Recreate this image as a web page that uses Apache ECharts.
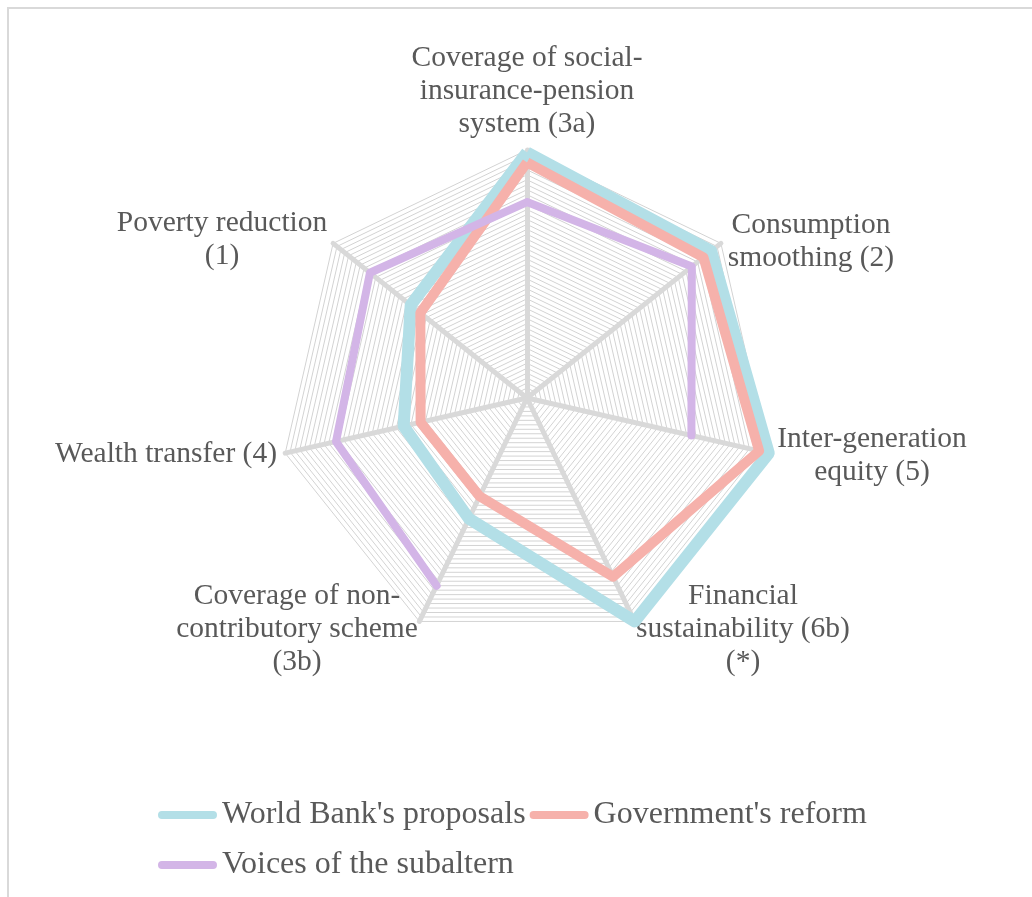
<!DOCTYPE html>
<html><head><meta charset="utf-8">
<script src="https://cdn.jsdelivr.net/npm/echarts@6/dist/echarts.min.js"></script>
<style>
html,body{margin:0;padding:0;background:#fff;overflow:hidden;width:1032px;height:897px;}
#frame{position:absolute;left:7px;top:7px;width:1100px;height:1000px;border-top:2px solid #d9d9d9;border-left:2px solid #d9d9d9;}
#chart{position:absolute;left:0;top:0;width:1032px;height:897px;}
</style></head><body>
<div id="frame"></div><div id="chart"></div>
<script>
// Axes in clockwise order starting from the top
const categories = [
  "Coverage of social-\ninsurance-pension\nsystem (3a)",
  "Consumption\nsmoothing (2)",
  "Inter-generation\nequity (5)",
  "Financial\nsustainability (6b)\n(*)",
  "Coverage of non-\ncontributory scheme\n(3b)",
  "Wealth transfer (4)",
  "Poverty reduction\n(1)"
];
const worldBank  = [99, 95, 100, 100, 54, 51, 60];
const government = [95, 91, 96, 80, 44, 44, 55];
const subaltern  = [79, 85, 68, null, 84, 79, 81];
const seriesNames = ["World Bank's proposals", "Government's reform", "Voices of the subaltern"];
const axisMax = 100;

const colors = ['#b3dfe7', '#f6b1ab', '#d3b5e7'];
const CX = 527, CY = 398, R = 248;
const textColor = '#595959';
const serif = '"Liberation Serif", "Times New Roman", serif';

// radar places indicators counter-clockwise; reorder so the picture runs clockwise
const order = categories.map((_, i) => (categories.length - i) % categories.length);
const indicator = order.map(i => ({ name: categories[i], min: 0, max: axisMax }));

// label anchors (block centres) for the axis names, same order as categories
const labelAnchors = [
  { x: 527, y: 91 },
  { x: 811, y: 242 },
  { x: 872, y: 456 },
  { x: 743, y: 629 },
  { x: 297, y: 629 },
  { x: 166, y: 454 },
  { x: 222, y: 240 }
];

const subalternData = [];
for (let i = 0; i <= categories.length; i++) {
  subalternData.push([subaltern[i % categories.length], i]);
}

const pill = 'path://M4,0L56,0A4,4,0,0,1,56,8L4,8A4,4,0,0,1,4,0Z';

const legendCommon = {
  orient: 'horizontal', itemGap: 4, padding: 0,
  itemWidth: 59, itemHeight: 8, icon: pill,
  textStyle: { fontFamily: serif, fontSize: 32, color: textColor, lineHeight: 40 },
  selectedMode: false
};

const chart = echarts.init(document.getElementById('chart'), null, { renderer: 'canvas' });
chart.setOption({
  animation: false,
  radar: {
    center: [CX, CY],
    radius: R,
    startAngle: 90,
    shape: 'polygon',
    splitNumber: 50,
    indicator: indicator,
    axisName: { show: false },
    axisLine: { lineStyle: { color: '#d9d9d9', width: 5 } },
    splitLine: { lineStyle: { color: '#d3d3d3', width: 1 } },
    splitArea: { show: false },
    axisTick: { show: false },
    axisLabel: { show: false }
  },
  polar: { center: [CX, CY], radius: R },
  angleAxis: { type: 'value', min: 0, max: categories.length, startAngle: 90, clockwise: true, show: false },
  radiusAxis: { type: 'value', min: 0, max: axisMax, show: false },
  legend: [
    Object.assign({}, legendCommon, {
      left: 158, top: 795,
      data: [
        { name: seriesNames[0], itemStyle: { color: colors[0] } },
        { name: seriesNames[1], itemStyle: { color: colors[1] } }
      ]
    }),
    Object.assign({}, legendCommon, {
      left: 158, top: 845,
      data: [{ name: seriesNames[2], itemStyle: { color: colors[2] } }]
    })
  ],
  graphic: categories.map((c, i) => ({
    type: 'text',
    x: labelAnchors[i].x,
    y: labelAnchors[i].y,
    style: {
      text: c,
      fill: textColor,
      fontFamily: serif,
      fontSize: 29.5,
      lineHeight: 33,
      align: 'center',
      verticalAlign: 'middle'
    }
  })),
  series: [
    {
      type: 'radar', name: seriesNames[0], symbol: 'none', z: 3,
      itemStyle: { color: colors[0] },
      lineStyle: { color: colors[0], width: 12, join: 'round' },
      data: [{ name: seriesNames[0], value: order.map(i => worldBank[i]) }]
    },
    {
      type: 'radar', name: seriesNames[1], symbol: 'none', z: 4,
      itemStyle: { color: colors[1] },
      lineStyle: { color: colors[1], width: 10, join: 'round' },
      data: [{ name: seriesNames[1], value: order.map(i => government[i]) }]
    },
    {
      type: 'line', name: seriesNames[2], coordinateSystem: 'polar', z: 5,
      showSymbol: false, symbol: 'none', smooth: false, connectNulls: false,
      itemStyle: { color: colors[2] },
      lineStyle: { color: colors[2], width: 8, cap: 'round', join: 'round' },
      data: subalternData
    }
  ]
});
</script>
</body></html>
